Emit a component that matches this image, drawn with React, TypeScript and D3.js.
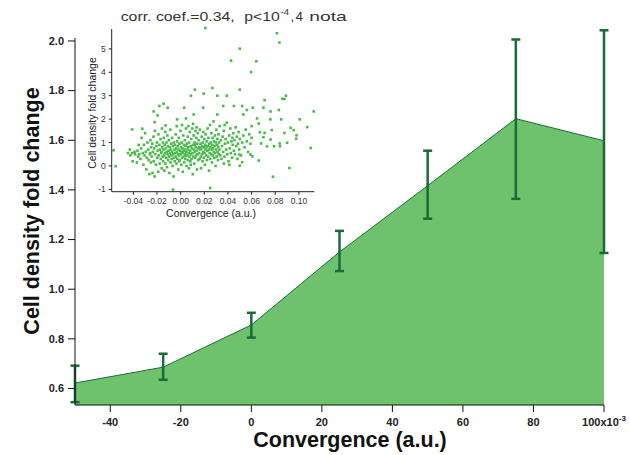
import React from 'react';
import * as d3 from 'd3';

// main chart: binned mean fold change with error bars
const binCenters = [-50, -25, 0, 25, 50, 75, 100];
const binMeans = [0.622, 0.686, 0.856, 1.15, 1.417, 1.687, 1.598];
const errLow = [0.545, 0.635, 0.805, 1.073, 1.284, 1.364, 1.146];
const errHigh = [0.692, 0.74, 0.905, 1.235, 1.558, 2.006, 2.043];

const xTicks = [-40, -20, 0, 20, 40, 60, 80, 100];
const yTicks = [0.6, 0.8, 1.0, 1.2, 1.4, 1.6, 1.8, 2.0];

// inset scatter: individual cells (convergence, fold change)
const cellPoints: [number, number][] = [
  // outliers
  [0.0209, 5.89], [0.0814, 5.67], [0.0835, 5.27], [0.05, 5.01], [0.0426, 4.5], [0.064, 4.47],
  [0.0595, 4.01], [0.0268, 3.33], [0.012, 3.26], [0.05, 3.26], [0.0087, 3.0], [0.0195, 3.09],
  [0.031, 3.0], [0.039, 3.0], [0.0877, 2.86], [0.089, 3.0], [0.086, 2.87], [0.071, 2.81],
  [-0.0144, 2.66], [-0.011, 2.49], [-0.018, 2.56], [0.1125, 2.33], [0.003, 2.49], [0.019, 2.49],
  [0.036, 2.56], [0.045, 2.56], [0.052, 2.56], [0.056, 2.39], [0.061, 2.49], [0.07, 2.49],
  [0.076, 2.33], [0.083, 2.39], [-0.0228, 2.33], [-0.0195, 2.16], [0.011, 2.2], [0.031, 2.2],
  [0.053, 2.2], [0.0646, 2.03], [0.0758, 1.99], [0.085, 1.99], [0.1007, 1.99], [-0.003, 1.99],
  [0.0045, 2.03], [-0.0127, 1.73], [-0.022, 1.87], [-0.041, 1.56], [-0.0324, 1.59], [0.107, 1.66],
  [0.093, 1.63], [0.098, 1.31], [0.0977, 1.16], [0.09, 0.99], [0.0837, 0.96], [0.079, 0.84],
  [0.084, 0.84], [0.11, 0.77], [0.092, -0.09], [0.078, -0.46], [0.025, -0.94], [-0.0065, -1.01],
  [-0.0567, 0.67], [-0.055, -0.01], [0.067, 1.44], [0.071, 1.41], [0.077, 1.53], [0.0877, 1.41],
  [0.0956, 1.53], [0.07, 1.23], [0.073, 0.84], [0.06, 1.7], [0.066, 1.81], [0.076, 1.13],
  [0.068, 0.96], [0.059, 0.49], [0.0606, 0.41], [0.066, 0.23], [0.05, 0.01], [0.052, 0.16],
  [0.0497, 0.49],
  // main cloud
  [-0.0445, 0.55], [-0.043, 0.7], [-0.0425, 0.45], [-0.041, 0.55], [-0.0405, 0.2], [-0.039, 0.6],
  [-0.0385, 0.5], [-0.037, 0.15], [-0.0365, 0.65], [-0.036, 0.4], [-0.0355, 0.9], [-0.035, 0.5],
  [-0.034, 0.3], [-0.0335, 0.75], [-0.033, 1.2], [-0.032, 0.55], [-0.0315, 0.05], [-0.031, 0.9],
  [-0.0305, 0.45], [-0.03, 1.4], [-0.0295, 0.6], [-0.029, -0.15], [-0.0285, 0.35], [-0.028, 1.0],
  [-0.0275, 0.7], [-0.027, 0.25], [-0.0265, -0.35], [-0.026, 0.5], [-0.0255, 1.1], [-0.025, 0.8],
  [-0.0252, 0.15], [-0.0258, 0.55],
  [-0.0245, 0.4], [-0.024, 0.95], [-0.0238, -0.3], [-0.0235, 0.6], [-0.023, 1.25], [-0.0228, 0.2],
  [-0.0225, 0.75], [-0.022, -0.45], [-0.0218, 1.5], [-0.0215, 0.5], [-0.021, 0.05], [-0.0205, 0.85],
  [-0.02, 1.0], [-0.0198, 0.35], [-0.0195, 0.65], [-0.019, -0.25], [-0.0188, 1.35], [-0.0185, 0.45],
  [-0.018, 0.9], [-0.0178, 0.1], [-0.0175, 0.7], [-0.017, 1.15], [-0.0168, 0.3], [-0.0165, 0.55],
  [-0.016, -0.1], [-0.0158, 1.6], [-0.0155, 0.8], [-0.0152, 0.4], [-0.015, 1.0], [-0.0162, 0.6],
  [-0.0148, 0.2], [-0.0145, 0.7], [-0.0142, 1.2], [-0.014, 0.45], [-0.0138, -0.2], [-0.0135, 0.9],
  [-0.0132, 0.55], [-0.013, 1.45], [-0.0128, 0.1], [-0.0125, 0.75], [-0.0122, 0.35], [-0.012, 1.0],
  [-0.0118, 0.6], [-0.0115, -0.05], [-0.0112, 1.3], [-0.011, 0.5], [-0.0108, 0.85], [-0.0105, 0.25],
  [-0.0102, 0.65], [-0.01, 1.1], [-0.0098, 0.4], [-0.0095, -0.3], [-0.0092, 0.8], [-0.009, 0.55],
  [-0.0088, 1.55], [-0.0085, 0.15], [-0.0082, 0.7], [-0.008, 0.95], [-0.0078, 0.45], [-0.0075, 0.3],
  [-0.0072, 1.2], [-0.007, 0.6], [-0.0068, 0.0], [-0.0065, 0.85], [-0.0062, 0.5], [-0.006, -0.45],
  [-0.0058, 1.0], [-0.0055, 0.35], [-0.0052, 0.7], [-0.005, 0.2],
  [-0.0048, 0.9], [-0.0045, 0.55], [-0.0042, 1.35], [-0.004, 0.4], [-0.0038, 0.75], [-0.0035, 0.1],
  [-0.0032, 0.6], [-0.003, 1.05], [-0.0028, 0.3], [-0.0025, 0.85], [-0.0022, 0.5], [-0.002, -0.15],
  [-0.0018, 0.7], [-0.0015, 1.2], [-0.0012, 0.45], [-0.001, 0.95], [-0.0008, 0.25], [-0.0005, 0.65],
  [-0.0002, 1.5], [0.0, 0.5], [0.0003, 0.8], [0.0005, 0.05], [0.0008, 0.6], [0.001, 1.0],
  [0.0012, 0.35], [0.0015, 0.75], [0.0018, -0.25], [0.002, 0.55], [0.0022, 1.3], [0.0025, 0.4],
  [0.0028, 0.9], [0.003, 0.15], [0.0032, 0.7], [0.0035, 1.1], [0.0038, 0.5], [0.004, 0.3],
  [0.0042, 0.85], [0.0045, 1.6], [0.0048, 0.6], [0.005, 0.0], [-0.0033, 1.7], [0.0012, 1.75],
  [0.0043, 0.45], [-0.0012, 0.2], [0.0027, 0.65],
  [0.0052, 0.95], [0.0055, 0.45], [0.0058, 0.7], [0.006, 1.25], [0.0062, 0.25], [0.0065, 0.8],
  [0.0068, 0.55], [0.007, -0.1], [0.0072, 1.0], [0.0075, 0.4], [0.0078, 1.45], [0.008, 0.65],
  [0.0082, 0.2], [0.0085, 0.85], [0.0088, 0.5], [0.009, 1.15], [0.0092, 0.3], [0.0095, 0.75],
  [0.0098, 1.6], [0.01, 0.55], [0.0102, -0.35], [0.0105, 0.9], [0.0108, 0.4], [0.011, 1.3],
  [0.0112, 0.7], [0.0115, 0.1], [0.0118, 1.0], [0.012, 0.6], [0.0122, 0.35], [0.0125, 1.5],
  [0.0128, 0.8], [0.013, 0.45], [0.0132, 1.2], [0.0135, 0.65], [0.0138, -0.15], [0.014, 0.95],
  [0.0142, 0.5], [0.0145, 1.4], [0.0148, 0.25], [0.015, 0.75], [0.0065, 1.7], [0.0105, 1.8],
  [0.0135, 1.65], [0.0085, 0.05], [0.012, 0.9],
  [0.0152, 1.1], [0.0155, 0.55], [0.0158, 0.8], [0.016, 0.3], [0.0162, 1.55], [0.0165, 0.7],
  [0.0168, 0.95], [0.017, 0.4], [0.0172, -0.1], [0.0175, 0.75], [0.0178, 1.25], [0.018, 0.5],
  [0.0182, 0.85], [0.0185, 0.2], [0.0188, 1.0], [0.019, 0.6], [0.0192, 1.45], [0.0195, 0.35],
  [0.0198, 0.8], [0.02, 1.15], [0.0202, 0.55], [0.0205, 0.05], [0.0208, 0.9], [0.021, 0.7],
  [0.0212, 1.35], [0.0215, 0.45], [0.0218, 0.8], [0.022, 1.05], [0.0222, 0.25], [0.0225, 0.65],
  [0.0228, 1.6], [0.023, 0.85], [0.0232, 0.4], [0.0235, 1.2], [0.0238, 0.7], [0.024, -0.2],
  [0.0242, 0.95], [0.0245, 0.55], [0.0248, 1.75], [0.025, 0.3],
  [0.0252, 0.8], [0.0255, 1.0], [0.0258, 0.5], [0.026, 1.4], [0.0262, 0.7], [0.0265, 0.15],
  [0.0268, 0.9], [0.027, 1.2], [0.0272, 0.45], [0.0275, 0.75], [0.0278, 1.9], [0.028, 0.6],
  [0.0282, 1.05], [0.0285, 0.35], [0.0288, 0.85], [0.029, 1.3], [0.0292, 0.55], [0.0295, 0.0],
  [0.0298, 1.0], [0.03, 0.7], [0.0302, 1.55], [0.0305, 0.4], [0.0308, 0.9], [0.031, 1.15],
  [0.0312, 0.6], [0.0315, 0.25], [0.0318, 0.8], [0.032, 1.35], [0.0322, 0.5], [0.0325, 1.0],
  [0.0328, 0.7], [0.033, 1.7], [0.0335, 0.45], [0.034, 1.1], [0.0345, 0.3],
  [0.035, 0.85], [0.0355, 1.25], [0.036, 0.6], [0.0365, 1.5], [0.037, 0.4], [0.0375, 0.95],
  [0.038, 1.15], [0.0385, 0.7], [0.039, 1.85], [0.0395, 0.5], [0.04, 1.0], [0.0405, 0.2],
  [0.041, 1.3], [0.0415, 0.75], [0.042, 1.6], [0.0425, 0.55], [0.043, 1.05], [0.0435, 0.35],
  [0.044, 0.9], [0.0445, 1.4], [0.045, 0.65], [0.0365, 0.1], [0.0412, 0.05], [0.0438, 1.2],
  [0.0372, 1.75],
  [0.0455, 1.1], [0.046, 0.5], [0.0465, 1.65], [0.047, 0.85], [0.0475, 1.25], [0.048, 0.3],
  [0.0485, 0.95], [0.049, 1.45], [0.0495, 0.7], [0.05, 1.15], [0.051, 0.45], [0.052, 1.0],
  [0.053, 1.3], [0.054, 0.8], [0.055, 1.55], [0.056, 1.05], [0.057, 0.6], [0.058, 1.35],
  [0.059, 0.95], [0.06, 1.2],
];

const insetXTicks = [-0.04, -0.02, 0.0, 0.02, 0.04, 0.06, 0.08, 0.1];
const insetYTicks = [-1, 0, 1, 2, 3, 4, 5];

const FONT = 'Arial, "Liberation Sans", Helvetica, sans-serif';

const App = () => {
  const width = 630;
  const height = 455;

  // main scales
  const x = d3.scaleLinear().domain([-50, 100]).range([75, 604]);
  const y = d3.scaleLinear().domain([0.5335, 2.012]).range([405, 38]);

  const pts = binCenters.map((c, i) => ({ c, m: binMeans[i], lo: errLow[i], hi: errHigh[i] }));

  const area = d3.area<typeof pts[0]>()
    .x(d => x(d.c))
    .y0(y(0.5335))
    .y1(d => y(d.m));
  const line = d3.line<typeof pts[0]>()
    .x(d => x(d.c))
    .y(d => y(d.m));

  // inset scales
  const ix = d3.scaleLinear().domain([-0.0583, 0.113]).range([111.7, 314.3]);
  const iy = d3.scaleLinear().domain([-1.1, 5.85]).range([191.7, 29]);

  // title pieces are a bit wider than the font, so stretch them
  const titleProps = { fontFamily: FONT, fontSize: 13.5, fill: '#333', lengthAdjust: 'spacingAndGlyphs' as const };

  return (
    <svg width={width} height={height} style={{ position: 'absolute', left: 0, top: 0, background: '#fff' }}>
      {/* filled area + mean line */}
      <path d={area(pts) || ''} fill="#6ec26d" />
      <path d={line(pts) || ''} fill="none" stroke="#1f6b35" strokeWidth={1} />

      {/* error bars */}
      {pts.map((d, i) => (
        <g key={i} stroke="#1b6b37" strokeWidth={2.5}>
          <line x1={x(d.c)} x2={x(d.c)} y1={y(d.lo)} y2={y(d.hi)} />
          <line x1={x(d.c) - 4.5} x2={x(d.c) + 4.5} y1={y(d.lo)} y2={y(d.lo)} />
          <line x1={x(d.c) - 4.5} x2={x(d.c) + 4.5} y1={y(d.hi)} y2={y(d.hi)} />
        </g>
      ))}

      {/* main y axis */}
      <line x1={75} x2={75} y1={38} y2={405} stroke="#111" strokeWidth={1} />
      {yTicks.map(t => (
        <g key={t} transform={`translate(75,${y(t)})`}>
          <line x1={-7} x2={0} stroke="#111" />
          <text x={-11} dy="0.35em" textAnchor="end" fontFamily={FONT} fontWeight="bold" fontSize={11} fill="#222">
            {t.toFixed(1)}
          </text>
        </g>
      ))}
      <text
        transform={`translate(39,${211}) rotate(-90)`}
        textAnchor="middle"
        fontFamily={FONT}
        fontWeight="bold"
        fontSize={21.5}
        fill="#111"
      >
        Cell density fold change
      </text>

      {/* main x axis */}
      <line x1={75} x2={604} y1={405} y2={405} stroke="#111" strokeWidth={1} />
      {xTicks.map(t => (
        <g key={t} transform={`translate(${x(t)},405)`}>
          <line y1={0} y2={7} stroke="#111" />
          <text y={21} textAnchor="middle" fontFamily={FONT} fontWeight="bold" fontSize={11} fill="#222">
            {t === 100 ? (
              <>
                100x10<tspan dy={-5} fontSize={8}>-3</tspan>
              </>
            ) : (
              t
            )}
          </text>
        </g>
      ))}
      <text x={350} y={447} textAnchor="middle" fontFamily={FONT} fontWeight="bold" fontSize={21.5} fill="#111">
        Convergence (a.u.)
      </text>

      {/* inset title */}
      <text x={120.7} y={20.7} textLength={114} {...titleProps}>corr. coef.=0.34,</text>
      <text x={244.3} y={20.7} textLength={35.5} {...titleProps}>p&lt;10</text>
      <text x={280.5} y={14.5} textLength={8.5} {...titleProps} fontSize={9.5}>-4</text>
      <text x={290.5} y={20.7} {...titleProps}>,</text>
      <text x={295.5} y={20.7} textLength={7.5} {...titleProps}>4</text>
      <text x={309.3} y={20.7} textLength={37.4} {...titleProps}>nota</text>

      {/* inset scatter */}
      {cellPoints.map((p, i) => (
        <rect key={i} x={ix(p[0]) - 1.3} y={iy(p[1]) - 1.3} width={2.6} height={2.6} fill="#4aba4a" />
      ))}
      <line x1={111.7} x2={111.7} y1={29} y2={191.7} stroke="#222" strokeWidth={1} />
      <line x1={111.7} x2={314.3} y1={191.7} y2={191.7} stroke="#222" strokeWidth={1} />
      {insetYTicks.map(t => (
        <g key={t} transform={`translate(111.7,${iy(t)})`}>
          <line x1={-3} x2={0} stroke="#222" />
          <text x={-6} dy="0.35em" textAnchor="end" fontFamily={FONT} fontSize={8.5} fill="#333">
            {t}
          </text>
        </g>
      ))}
      {insetXTicks.map(t => (
        <g key={t} transform={`translate(${ix(t)},191.7)`}>
          <line y1={0} y2={3} stroke="#222" />
          <text y={12} textAnchor="middle" fontFamily={FONT} fontSize={8.5} fill="#333">
            {t.toFixed(2)}
          </text>
        </g>
      ))}
      <text
        transform={`translate(96,113) rotate(-90)`}
        textAnchor="middle"
        fontFamily={FONT}
        fontSize={10.5}
        fill="#222"
      >
        Cell density fold change
      </text>
      <text x={211} y={217} textAnchor="middle" fontFamily={FONT} fontSize={10.5} fill="#222">
        Convergence (a.u.)
      </text>
    </svg>
  );
};

export default App;
